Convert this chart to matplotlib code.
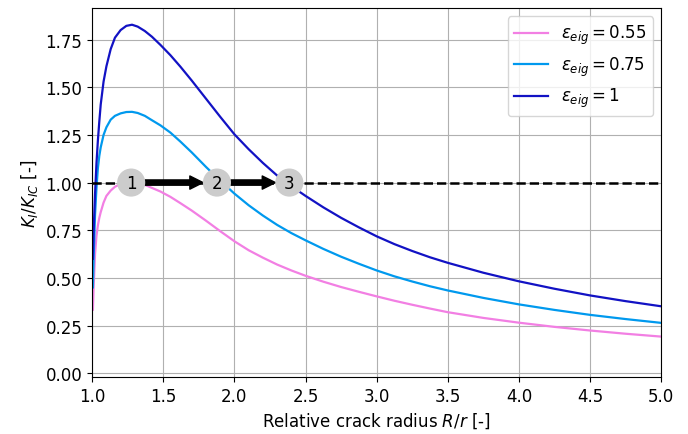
import numpy as np
import matplotlib
matplotlib.use("Agg")
import matplotlib.pyplot as plt

# relative crack radius R/r
R = [1.005, 1.01, 1.02, 1.03, 1.04, 1.05, 1.06, 1.08, 1.10, 1.13, 1.16, 1.20, 1.24,
     1.28, 1.32, 1.37, 1.42, 1.48, 1.55, 1.62, 1.7, 1.8, 1.9, 2.0, 2.1, 2.2, 2.3, 2.4,
     2.5, 2.625, 2.75, 2.875, 3.0, 3.125, 3.25, 3.375, 3.5, 3.75, 4.0, 4.25, 4.5,
     4.75, 5.0]

# K_I/K_IC
k_055 = [0.333, 0.45, 0.625, 0.72, 0.775, 0.815, 0.845, 0.895, 0.93, 0.958, 0.978, 0.993,
         1.0, 1.002, 0.998, 0.988, 0.972, 0.953, 0.925, 0.892, 0.853, 0.80, 0.745, 0.692,
         0.645, 0.606, 0.570, 0.539, 0.511, 0.480, 0.452, 0.427, 0.403, 0.38, 0.359,
         0.339, 0.32, 0.29, 0.265, 0.243, 0.224, 0.207, 0.192]
k_075 = [0.45, 0.60, 0.83, 0.97, 1.075, 1.14, 1.185, 1.25, 1.29, 1.33, 1.35, 1.363,
         1.37, 1.371, 1.365, 1.35, 1.327, 1.30, 1.262, 1.215, 1.158, 1.082, 1.01, 0.942,
         0.881, 0.827, 0.778, 0.735, 0.697, 0.652, 0.611, 0.574, 0.539, 0.508, 0.481,
         0.456, 0.434, 0.395, 0.361, 0.332, 0.306, 0.284, 0.264]
k_100 = [0.60, 0.74, 0.94, 1.10, 1.22, 1.32, 1.41, 1.53, 1.61, 1.70, 1.76, 1.80,
         1.822, 1.828, 1.818, 1.795, 1.765, 1.722, 1.668, 1.608, 1.535, 1.44, 1.345, 1.253,
         1.175, 1.103, 1.037, 0.981, 0.930, 0.870, 0.815, 0.765, 0.718, 0.677, 0.641,
         0.608, 0.579, 0.527, 0.482, 0.443, 0.408, 0.378, 0.351]

labels = [r"$\varepsilon_{eig} = 0.55$", r"$\varepsilon_{eig} = 0.75$", r"$\varepsilon_{eig} = 1$"]
colors = ["#f27fe3", "#0099ee", "#1212c4"]

# growth steps marked on K_I/K_IC = 1
step_x = [1.274, 1.877, 2.386]
step_txt = ["1", "2", "3"]

plt.rcParams["font.size"] = 12
fig = plt.figure(figsize=(6.88, 4.35), dpi=100)
ax = fig.add_axes([0.134, 0.131, 0.827, 0.848])

for y, c, l in zip([k_055, k_075, k_100], colors, labels):
    ax.plot(R, y, color=c, lw=1.6, label=l, zorder=2)

ax.plot([1.0, 5.0], [1.0, 1.0], "k--", lw=1.8, zorder=2)

for i in range(len(step_x) - 1):
    ax.annotate("", xy=(step_x[i + 1], 1.0), xytext=(step_x[i], 1.0),
                arrowprops=dict(arrowstyle="simple,head_width=0.95,head_length=0.95,tail_width=0.38",
                                color="k", mutation_scale=10, shrinkA=10, shrinkB=10),
                zorder=3)

ax.scatter(step_x, [1.0] * len(step_x), s=410, color="#cccccc", edgecolors="none", zorder=4)
for x, t in zip(step_x, step_txt):
    ax.text(x, 1.0, t, ha="center", va="center", fontsize=12, zorder=5)

ax.set_xlim(1.0, 5.0)
ax.set_ylim(-0.02, 1.915)
ax.set_xticks(np.arange(1.0, 5.01, 0.5))
ax.set_yticks(np.arange(0.0, 1.76, 0.25))
ax.grid(True, zorder=0)
ax.set_axisbelow(True)
ax.set_xlabel(r"Relative crack radius $R/r$ [-]")
ax.set_ylabel(r"$K_I/K_{IC}$ [-]")
ax.legend(loc="upper right")

fig.savefig("out.png", dpi=100)
